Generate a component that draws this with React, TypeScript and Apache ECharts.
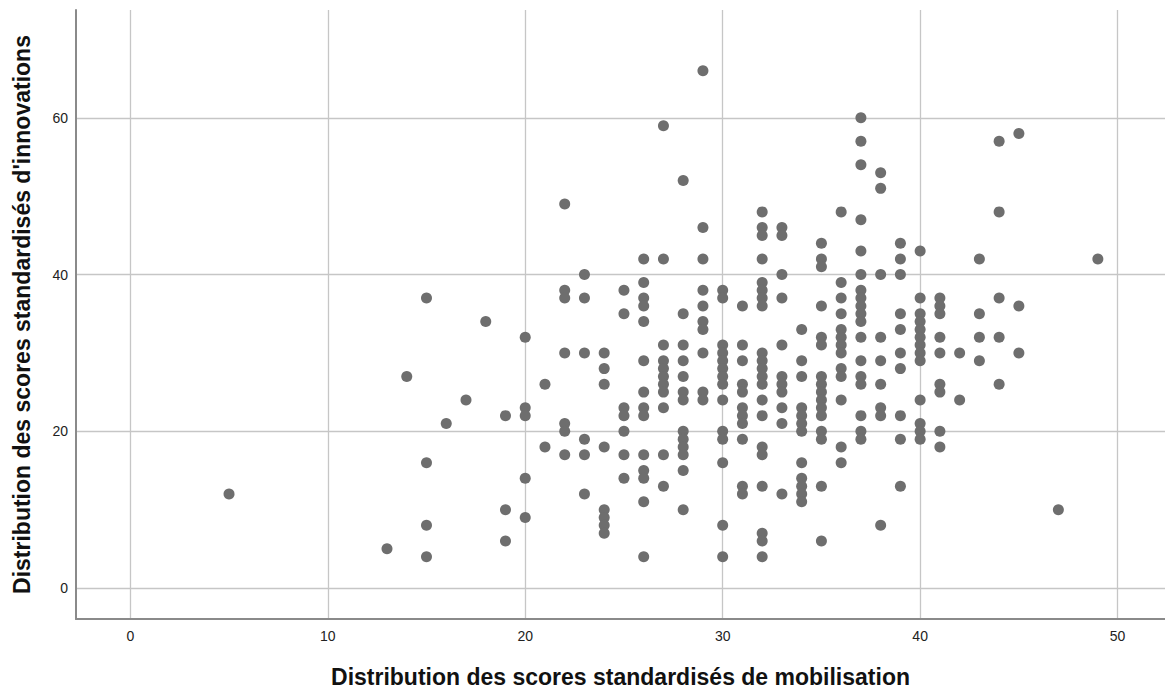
import React, { useEffect, useRef } from "react";
import * as echarts from "echarts";

// Mobilisation scores (x) and, for each, the innovation scores (y) observed
const mobilisationScores: number[] = [
  5, 13, 14, 15, 16, 17, 18, 19, 20, 21, 22, 23, 24, 25, 26, 27, 28, 29, 30,
  31, 32, 33, 34, 35, 36, 37, 38, 39, 40, 41, 42, 43, 44, 45, 47, 49,
];

const innovationScores: number[][] = [
  [12],
  [5],
  [27],
  [37, 16, 8, 4],
  [21],
  [24],
  [34],
  [22, 10, 6],
  [32, 23, 22, 14, 9],
  [26, 18],
  [49, 38, 37, 30, 21, 20, 17],
  [40, 37, 30, 19, 17, 12],
  [30, 28, 26, 18, 10, 9, 8, 7],
  [38, 35, 23, 22, 20, 17, 14],
  [42, 39, 37, 36, 34, 29, 25, 23, 22, 17, 15, 14, 11, 4],
  [59, 42, 31, 29, 28, 27, 26, 25, 23, 17, 13],
  [52, 35, 31, 29, 27, 25, 24, 20, 19, 18, 17, 15, 10],
  [66, 46, 42, 38, 36, 34, 33, 30, 25, 24],
  [38, 37, 31, 30, 29, 28, 27, 26, 24, 20, 19, 16, 8, 4],
  [36, 31, 29, 26, 25, 23, 22, 21, 19, 13, 12],
  [48, 46, 45, 42, 39, 38, 37, 36, 30, 29, 28, 27, 26, 24, 22, 18, 17, 13, 7, 6, 4],
  [46, 45, 40, 37, 31, 27, 26, 25, 23, 21, 12],
  [33, 29, 27, 23, 22, 21, 20, 16, 14, 13, 12, 11],
  [44, 42, 41, 36, 32, 31, 27, 26, 25, 24, 23, 22, 20, 19, 13, 6],
  [48, 39, 37, 35, 33, 32, 31, 30, 28, 27, 24, 18, 16],
  [60, 57, 54, 47, 43, 40, 38, 37, 36, 35, 34, 32, 29, 27, 26, 22, 20, 19],
  [53, 51, 40, 32, 29, 26, 23, 22, 8],
  [44, 42, 40, 35, 33, 30, 28, 22, 19, 13],
  [43, 37, 35, 34, 33, 32, 31, 30, 29, 24, 21, 20, 19],
  [37, 36, 35, 32, 30, 26, 25, 20, 18],
  [30, 24],
  [42, 35, 32, 29],
  [57, 48, 37, 32, 26],
  [58, 36, 30],
  [10],
  [42],
];

const xAxisTitle = "Distribution des scores standardisés de mobilisation";
const yAxisTitle = "Distribution des scores standardisés d'innovations";

export default function App() {
  const ref = useRef<HTMLDivElement>(null);

  useEffect(() => {
    if (!ref.current) return;
    const chart = echarts.init(ref.current, undefined, { renderer: "svg" });
    const points: number[][] = [];
    mobilisationScores.forEach((x, i) => {
      innovationScores[i].forEach((y) => points.push([x, y]));
    });
    const font = "'Liberation Sans', Arial, Helvetica, sans-serif";
    chart.setOption({
      animation: false,
      backgroundColor: "#ffffff",
      textStyle: { fontFamily: font },
      grid: { left: 76, right: 0, top: 10, bottom: 73, containLabel: false },
      xAxis: {
        type: "value",
        min: -2.75,
        max: 52.4,
        splitNumber: 5,
        name: xAxisTitle,
        nameLocation: "middle",
        nameGap: 46,
        nameTextStyle: { fontSize: 23, fontWeight: "bold", color: "#111", fontFamily: font },
        axisLine: { show: true, onZero: false, lineStyle: { color: "#8a8a8a", width: 2 } },
        axisTick: { show: false },
        axisLabel: {
          color: "#222",
          fontSize: 14,
          margin: 10,
          showMinLabel: false,
          showMaxLabel: false,
          fontFamily: font,
        },
        splitLine: {
          show: true,
          showMinLine: false,
          showMaxLine: false,
          lineStyle: { color: "#c6c6c6", width: 1.3 },
        },
      },
      yAxis: {
        type: "value",
        min: -3.95,
        max: 73.76,
        splitNumber: 4,
        name: yAxisTitle,
        nameLocation: "middle",
        nameGap: 43,
        nameTextStyle: { fontSize: 23, fontWeight: "bold", color: "#111", fontFamily: font },
        axisLine: { show: true, onZero: false, lineStyle: { color: "#8a8a8a", width: 2 } },
        axisTick: { show: false },
        axisLabel: {
          color: "#222",
          fontSize: 14,
          margin: 8,
          showMinLabel: false,
          showMaxLabel: false,
          fontFamily: font,
        },
        splitLine: {
          show: true,
          showMinLine: false,
          showMaxLine: false,
          lineStyle: { color: "#c6c6c6", width: 1.3 },
        },
      },
      series: [
        {
          type: "scatter",
          data: points,
          symbol: "circle",
          symbolSize: 11,
          itemStyle: { color: "#6e6e6e", opacity: 1 },
        },
      ],
    });
    return () => chart.dispose();
  }, []);

  return (
    <div
      ref={ref}
      style={{ position: "fixed", left: 0, top: 0, width: 1165, height: 693 }}
    />
  );
}
